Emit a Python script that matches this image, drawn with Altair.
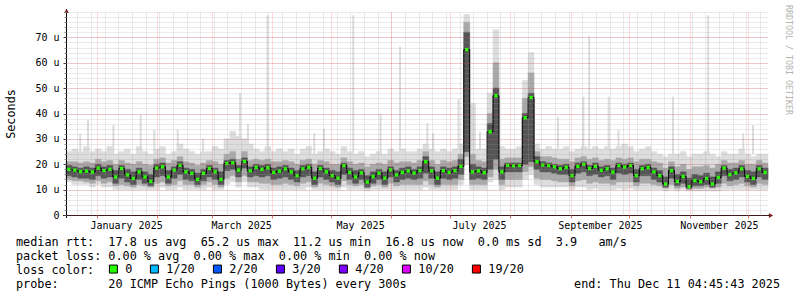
import altair as alt
import pandas as pd

MONO = "DejaVu Sans Mono"
NB = "\u00a0"

# ---------------- data ----------------
START = pd.Timestamp("2024-12-16 04:45:00")
STEP_DAYS = 3

median = [
    18.0, 17.7, 17.1, 17.3, 16.9, 18.5, 17.5, 18.0, 15.0, 18.3,
    15.8, 14.4, 17.0, 15.0, 13.2, 18.5, 19.0, 15.0, 17.7, 19.6,
    17.0, 16.4, 14.0, 16.4, 18.3, 17.0, 14.0, 20.3, 20.6, 17.7,
    21.1, 17.4, 18.8, 18.0, 18.6, 16.8, 17.3, 18.2, 17.0, 15.5,
    18.2, 18.8, 14.5, 18.3, 17.0, 15.5, 14.5, 19.5, 16.8, 15.0,
    16.6, 13.0, 15.1, 16.5, 14.5, 17.8, 15.8, 16.8, 17.4, 16.5,
    17.5, 21.0, 17.4, 14.5, 17.5, 16.8, 17.5, 19.2, 65.2, 17.0,
    17.4, 16.7, 32.8, 47.0, 17.0, 19.6, 19.4, 19.5, 38.3, 46.3,
    21.0, 19.7, 19.5, 19.0, 18.2, 18.8, 15.5, 19.2, 20.0, 18.3,
    19.2, 17.6, 18.2, 16.9, 19.5, 18.9, 19.5, 15.5, 18.2, 18.7,
    17.0, 15.5, 12.2, 17.5, 13.2, 15.2, 11.2, 13.6, 13.1, 14.4,
    12.2, 14.8, 18.5, 15.9, 16.6, 18.2, 15.2, 14.4, 18.2, 16.8,
]
smoke_lo = [
    13, 12, 12, 12, 11, 12, 11, 11, 10, 10,
    10, 10, 10, 10, 10, 10, 11, 10, 10, 11,
    10, 10, 10, 10, 11, 10, 10, 12, 13, 11,
    13, 11, 11, 10, 10, 10, 10, 10, 10, 10,
    10, 11, 10, 10, 10, 10, 10, 11, 10, 10,
    10, 9.5, 10, 10, 10, 10, 10, 10, 10, 10,
    10, 11, 10, 10, 10, 10, 10, 12, 20, 10,
    10, 10, 13, 14, 10, 11, 11, 11, 14, 16,
    12, 11, 11, 11, 11, 11, 10, 11, 11, 10,
    10.5, 10, 10, 10, 10.5, 10, 10.5, 10, 10, 10,
    10, 10, 9.5, 10, 9.5, 10, 9.5, 9.5, 9.5, 9.5,
    9.5, 9.5, 10, 10, 10, 10, 10, 10, 10, 10,
]
smoke_mlo = [
    14, 13.5, 13.5, 13, 12.5, 13.5, 12.5, 13, 11.5, 12,
    11.5, 11, 12, 11.5, 11, 12.5, 13, 11.5, 12, 13.5,
    12, 12, 11, 12, 13, 12, 11, 14.5, 15.5, 13,
    15.5, 13, 13, 12.5, 12.5, 12, 12, 12.5, 12, 11.5,
    12.5, 13, 11, 12.5, 12, 11.5, 11, 13.5, 12, 11.5,
    12, 10.5, 11.5, 12, 11, 12.5, 11.5, 12, 12, 12,
    12, 13.5, 12, 11, 12, 12, 12, 14, 23, 12,
    12, 12, 15, 18, 12, 14, 14, 14, 17, 19,
    14.5, 14, 14, 13.5, 13, 13, 11.5, 13.5, 14, 12.5,
    13, 12.5, 12.5, 12, 13, 13, 13, 11.5, 12.5, 12.5,
    12, 11.5, 10.5, 12, 10.5, 11, 10, 10.5, 10.5, 11,
    10.5, 11, 12.5, 11.5, 12, 12.5, 11.5, 11, 12.5, 12,
]
smoke_dlo = [
    15.5, 15, 14.5, 14.5, 14, 15.5, 14.5, 15, 12.5, 14.5,
    13, 12, 14, 12.5, 11.5, 15, 15.5, 12.5, 14.5, 16,
    14, 13.5, 12, 13.5, 15, 14, 12, 17.5, 18, 15,
    18.5, 15, 15.5, 15, 15.5, 14, 14.5, 15, 14, 13,
    15, 15.5, 12, 15, 14, 13, 12, 16, 14, 12.5,
    14, 11, 12.5, 14, 12, 15, 13, 14, 14.5, 14,
    14.5, 16.5, 14.5, 12, 14.5, 14, 14.5, 16, 25, 14,
    14.5, 14, 18, 22, 14, 17, 17, 17, 20, 21,
    18, 17, 17, 16.5, 16, 16, 13, 16.5, 17, 15.5,
    16, 15, 15.5, 14, 16.5, 16, 16.5, 13, 15.5, 15.5,
    14, 13, 11, 14.5, 11.5, 12.5, 10.5, 11.5, 11.5, 12,
    11, 12.5, 15.5, 13.5, 14, 15, 13, 12, 15, 14,
]
smoke_dhi = [
    19.5, 19, 18.5, 19, 18.5, 20, 19, 19.5, 17.5, 19.5,
    18, 17, 18.5, 17, 16, 20, 20.5, 17.5, 19, 21,
    18.5, 18, 16.5, 18, 19.5, 18.5, 17, 21.5, 22, 19.5,
    22.5, 19, 20, 19.5, 20, 18.5, 19, 19.5, 18.5, 17.5,
    19.5, 20, 17, 19.5, 18.5, 17.5, 17, 20.5, 18.5, 17.5,
    18, 15.5, 17, 18, 17, 19, 17.5, 18.5, 19, 18,
    19, 23, 19, 17, 19, 18.5, 19, 22, 72, 20,
    19, 18.5, 36, 50, 19, 20.5, 20.5, 20.5, 40, 48,
    23, 21, 20.5, 20, 19.5, 20, 18, 20.5, 21, 19.5,
    20.5, 19, 19.5, 18.5, 20.5, 20, 20.5, 18, 19.5, 20,
    18.5, 17.5, 15, 19, 16, 17, 14.5, 16, 15.5, 16.5,
    15, 17, 19.5, 18, 18.5, 19.5, 17.5, 17, 19.5, 18.5,
]
smoke_mhi = [
    21, 21, 20.5, 21, 20.5, 22, 21, 21.5, 20, 21.5,
    20.5, 20, 21, 20, 19.5, 22, 22.5, 20.5, 21.5, 23,
    21, 20.5, 19.5, 20.5, 21.5, 21, 20, 24, 25, 22,
    25, 21.5, 22, 21.5, 22, 21, 21, 21.5, 21, 20,
    21.5, 22, 20, 21.5, 21, 20, 20, 22.5, 21, 20,
    20.5, 19, 20, 20.5, 20, 21.5, 20.5, 21, 21, 20.5,
    21.5, 25, 21.5, 20, 21.5, 21, 21.5, 24, 76, 24,
    21.5, 21, 40, 60, 22, 22.5, 22.5, 22.5, 46, 56,
    25, 23, 23, 22.5, 22, 22, 21, 22.5, 23, 22,
    22.5, 21.5, 22, 21.5, 22.5, 22, 22.5, 21, 22, 22,
    21, 20.5, 18.5, 21, 19, 20, 18, 19, 19, 19.5,
    18.5, 20, 21.5, 20.5, 20.5, 21.5, 20, 20, 21.5, 20.5,
]
smoke_hi = [
    25, 26, 25, 27, 25, 26, 25, 27, 24, 25,
    26, 24, 27, 25, 24, 26, 27, 24, 25, 28,
    26, 25, 24, 25, 25, 27, 26, 30, 33, 31,
    30, 28, 26, 25, 27, 25, 26, 25, 26, 24,
    26, 27, 24, 25, 26, 25, 24, 27, 25, 24,
    25, 23, 24, 25, 24, 26, 25, 26, 25, 25,
    26, 28, 26, 25, 26, 25, 26, 28, 79, 44,
    26, 26, 48, 73, 27, 26, 26, 27, 53, 64,
    28, 26, 27, 26, 26, 27, 25, 26, 27, 26,
    27, 26, 27, 26, 27, 28, 27, 25, 26, 27,
    25, 24, 23, 24, 24, 25, 23, 24, 24, 25,
    24, 23, 25, 24, 24, 26, 24, 23, 24, 24,
]
loss_per_step = ["0"] * len(median)

spike_dates = [
    "2024-12-23T12:00:00", "2024-12-27T12:00:00", "2025-01-09T12:00:00",
    "2025-01-23T12:00:00", "2025-01-30T12:00:00", "2025-02-11T12:00:00",
    "2025-02-24T12:00:00", "2025-03-15T12:00:00", "2025-03-19T12:00:00",
    "2025-03-29T12:00:00", "2025-04-22T12:00:00", "2025-04-27T12:00:00",
    "2025-05-12T12:00:00", "2025-05-26T12:00:00", "2025-06-05T12:00:00",
    "2025-06-19T12:00:00", "2025-06-22T12:00:00", "2025-07-05T12:00:00",
    "2025-07-16T12:00:00", "2025-08-25T12:00:00", "2025-09-07T12:00:00",
    "2025-09-10T12:00:00", "2025-09-20T12:00:00", "2025-09-25T12:00:00",
    "2025-10-23T12:00:00", "2025-11-10T12:00:00", "2025-11-28T12:00:00",
    "2025-12-03T12:00:00",
]
spike_tops = [
    32, 37.4, 35.4, 39.4, 33.5, 33.5, 30, 48.1, 35.8, 78.7,
    32.2, 34, 78.7, 40, 66.5, 36.2, 32.2, 45.7, 32.8, 38.7,
    46.6, 70.5, 46.6, 33.5, 46.6, 78.7, 32.2, 35.4,
]

loss_labels = ["0", "1/20", "2/20", "3/20", "4/20", "10/20", "19/20"]
loss_colors = ["#26ff00", "#00b8ff", "#0059ff", "#5e00ff", "#7e00ff", "#dd00ff", "#ff0000"]

y_major_ticks = [0, 10, 20, 30, 40, 50, 60, 70]
y_minor_ticks = list(range(0, 82, 2))
month_label_days = [(2025, 1, 16), (2025, 3, 16), (2025, 5, 16),
                    (2025, 7, 16), (2025, 9, 16), (2025, 11, 16)]

legend_rows = [
    "median rtt:  17.8 us avg  65.2 us max  11.2 us min  16.8 us now  0.0 ms sd  3.9   am/s",
    "packet loss: 0.00 % avg  0.00 % max  0.00 % min  0.00 % now",
    "loss color:",
    "probe:       20 ICMP Echo Pings (1000 Bytes) every 300s",
]
end_text = "end: Thu Dec 11 04:45:43 2025"

# ---------------- frames ----------------
n = len(median)
fmt = lambda ts: ts.strftime("%Y-%m-%dT%H:%M:%S")
df = pd.DataFrame({
    "t": [fmt(START + pd.Timedelta(days=STEP_DAYS * i)) for i in range(n)],
    "t2": [fmt(START + pd.Timedelta(days=STEP_DAYS * (i + 1))) for i in range(n)],
    "tc": [fmt(START + pd.Timedelta(days=STEP_DAYS * i + STEP_DAYS / 2)) for i in range(n)],
    "median": median, "lo": smoke_lo, "mlo": smoke_mlo, "dlo": smoke_dlo,
    "dhi": smoke_dhi, "mhi": smoke_mhi, "hi": smoke_hi, "loss": loss_per_step,
})
spike_df = pd.DataFrame({"d": spike_dates, "top": spike_tops})

xscale = alt.Scale(domain=[
    alt.DateTime(year=2024, month=12, date=16, hours=4, minutes=45),
    alt.DateTime(year=2025, month=12, date=11, hours=4, minutes=45),
])
yscale = alt.Scale(domain=[0, 80], nice=False)

LIGHT, MID, DARK = "#dddddd", "#a9a9a9", "#555555"

ax_x_minor = alt.Axis(orient="bottom", grid=True, gridColor="#999999", gridOpacity=0.4,
                      gridDash=[1, 1], labels=False, ticks=False, domain=False,
                      tickCount={"interval": "week", "step": 1}, zindex=1)
ax_x_major = alt.Axis(orient="bottom", grid=True, gridColor="#ff0000", gridOpacity=0.27,
                      gridDash=[1, 1], labels=False, ticks=True, tickSize=3,
                      tickColor="#e07070", domain=False,
                      tickCount={"interval": "month", "step": 1}, zindex=1)
ax_x_labels = alt.Axis(orient="bottom", grid=False, ticks=False, domain=False,
                       values=[alt.DateTime(year=y, month=m, date=d) for y, m, d in month_label_days],
                       format="%B %Y", labelFont=MONO, labelFontSize=10, labelColor="black",
                       labelPadding=5, labelFlush=False, labelOverlap=False)
ax_y_minor = alt.Axis(orient="left", values=y_minor_ticks, grid=True, gridColor="#999999",
                      gridOpacity=0.4, gridDash=[1, 1], labels=False, ticks=True, tickSize=2,
                      tickColor="#888888", domain=False, zindex=1)
ax_y_major = alt.Axis(orient="left", values=y_major_ticks, grid=True, gridColor="#ff0000",
                      gridOpacity=0.27, gridDash=[1, 1], ticks=True, tickSize=3,
                      tickColor="#444444", domain=False, zindex=1,
                      labelExpr=f"datum.value == 0 ? '0{NB}{NB}' : datum.value + '{NB}u'",
                      labelFont=MONO, labelFontSize=10, labelColor="black", labelPadding=4)

light = alt.Chart(df).mark_rect(color=LIGHT, stroke=LIGHT, strokeWidth=0.5).encode(
    x=alt.X("t:T", scale=xscale, axis=ax_x_minor, title=None), x2="t2:T",
    y=alt.Y("lo:Q", scale=yscale, axis=ax_y_minor, title=None), y2="hi:Q")

spikes = alt.Chart(spike_df).mark_rule(color=LIGHT, strokeWidth=2).encode(
    x=alt.X("d:T", scale=xscale, axis=None),
    y=alt.Y("top:Q", scale=yscale, axis=None), y2=alt.datum(24))

mid = alt.Chart(df).mark_rect(color=MID, stroke=MID, strokeWidth=0.5).encode(
    x=alt.X("t:T", scale=xscale, axis=ax_x_major, title=None), x2="t2:T",
    y=alt.Y("mlo:Q", scale=yscale, axis=ax_y_major, title=None), y2="mhi:Q")

dark = alt.Chart(df).mark_rect(color=DARK, stroke=DARK, strokeWidth=0.5).encode(
    x=alt.X("t:T", scale=xscale, axis=ax_x_labels, title=None), x2="t2:T",
    y=alt.Y("dlo:Q", scale=yscale, axis=None), y2="dhi:Q")

med_line = alt.Chart(df).mark_line(interpolate="step", color="black", strokeWidth=1).encode(
    x=alt.X("tc:T", scale=xscale, axis=None),
    y=alt.Y("median:Q", scale=yscale, axis=None))

med_pts = alt.Chart(df).mark_square(size=11, opacity=1, filled=True).encode(
    x=alt.X("tc:T", scale=xscale, axis=None),
    y=alt.Y("median:Q", scale=yscale, axis=None),
    color=alt.Color("loss:N", scale=alt.Scale(domain=loss_labels, range=loss_colors),
                    legend=alt.Legend(orient="none", legendX=41.5, legendY=251,
                                      direction="horizontal", title=None,
                                      symbolType="square", symbolSize=64,
                                      symbolStrokeColor="black", symbolStrokeWidth=1,
                                      labelFont=MONO, labelFontSize=11.8, labelColor="black",
                                      labelOffset=6, columnPadding=15, padding=0)))

one = pd.DataFrame({"k": [0]})
y_axis_line = alt.Chart(one).mark_rule(color="black", strokeWidth=1).encode(
    x=alt.value(0.5), y=alt.value(-3), y2=alt.value(206))
x_axis_line = alt.Chart(one).mark_rule(color="black", strokeWidth=1).encode(
    x=alt.value(-3), x2=alt.value(704), y=alt.value(203.5))
arrow_up = alt.Chart(one).mark_point(shape="triangle-up", filled=True, size=24,
                                     color="#7f1f1f", opacity=1).encode(
    x=alt.value(0.5), y=alt.value(-1))
arrow_right = alt.Chart(one).mark_point(shape="triangle-right", filled=True, size=24,
                                        color="#7f1f1f", opacity=1).encode(
    x=alt.value(705), y=alt.value(203.5))


def text_layer(s, x, y, align="left", angle=0, size=11.8, color="black"):
    return alt.Chart(pd.DataFrame({"s": [s.replace(" ", NB)]})).mark_text(
        font=MONO, fontSize=size, align=align, baseline="middle", angle=angle,
        color=color).encode(text="s:N", x=alt.value(x), y=alt.value(y))


texts = [text_layer(row, -50, 229.5 + 14 * k) for k, row in enumerate(legend_rows)]
texts.append(text_layer(end_text, 714, 271.5, align="right"))
texts.append(text_layer("Seconds", -55, 102, align="center", angle=270))
texts.append(text_layer("RRDTOOL / TOBI OETIKER", 722, -7, align="left", angle=90,
                        size=8.3, color="#b4b4b4"))

chart = alt.layer(
    light, spikes, mid, dark, med_line, med_pts,
    y_axis_line, x_axis_line, arrow_up, arrow_right, *texts
).resolve_axis(x="independent", y="independent").properties(
    width=702, height=203,
    autosize=alt.AutoSizeParams(type="none"),
    padding={"left": 66, "top": 12, "right": 29, "bottom": 82},
    background="white",
).configure_view(stroke="transparent")

chart.save("out.html", embed_options={"renderer": "svg", "actions": False})
